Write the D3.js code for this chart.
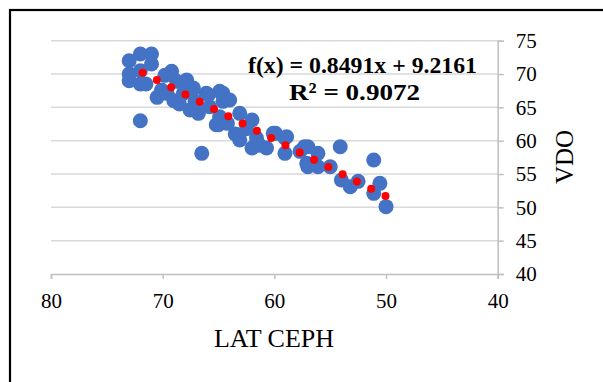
<!DOCTYPE html>
<html><head><meta charset="utf-8">
<script src="https://cdn.jsdelivr.net/npm/d3@7"></script>
<style>body{margin:0;background:#fff}svg{display:block}</style>
</head><body>
<svg id="c" width="603" height="382"></svg>
<script>
const latCeph = [73,72,71,73,73,72,71,71.5,72,72,
 69.8,69.2,70.1,69.6,68.75,67.85,68.15,67.4,67.1,67.55,66.8,66.1,65.8,64.9,64.6,65.2,70.5,69,68.5,
 67.25,66.8,65.9,64.6,64.0,64.9,65.0,63.1,62.0,63.1,62.0,61.6,60.7,59.9,58.9,59.05,66.5,57.3,57.1,63.5,61.3,
 60.1,59.05,57.7,57.0,56.1,57.0,56.1,55.0,54.1,54.0,53.2,52.5,51.1,50.55,51.1,50.0,62.5,64.2];
const vdo = [72,73,73,70,69,70.5,71.5,68.5,68.5,63,
 69.8,70.4,67.6,67.1,68.9,69.1,67.1,67.4,65.9,64.6,64.1,67.1,65.1,67.4,65.9,62.4,66.5,66,65.5,
 67.9,64.9,66.9,67.1,66.1,63.6,62.4,64.1,63.1,60.1,58.9,60.4,58.9,61.1,60.6,58.1,58.1,59.1,56.6,61,59.3,
 61.1,60.4,58.4,59.1,58.1,56.1,56.1,56.1,59.1,54.1,53.1,53.9,57.1,53.6,52.1,50.1,61.8,62.6];
const xTicks = [80,70,60,50,40];
const yTicks = [40,45,50,55,60,65,70,75];
const trendCoef = [0.8491, 9.2161];
const trendRange = [71.8, 50];
const eqLines = ["f(x) = 0.8491x + 9.2161", "R² = 0.9072"];

const svg = d3.select("#c");
const x = d3.scaleLinear().domain([80,40]).range([51,497.7]);
const y = d3.scaleLinear().domain([40,75]).range([274,40.7]);
const font = "'Liberation Serif','Times New Roman',serif";

// border
svg.append("rect").attr("x",10).attr("y",10).attr("width",700).attr("height",500)
  .attr("fill","none").attr("stroke","#000").attr("stroke-width",2.2);

// gridlines
svg.append("g").selectAll("line").data(yTicks.filter(d=>d>40)).join("line")
  .attr("x1",x(80)).attr("x2",x(40)).attr("y1",d=>y(d)).attr("y2",d=>y(d))
  .attr("stroke","#d9d9d9").attr("stroke-width",1.5);

// x axis
const gx = svg.append("g").attr("transform",`translate(0,${y(40)})`)
  .call(d3.axisBottom(x).tickValues(xTicks).tickSize(5).tickPadding(14));
gx.select(".domain").attr("stroke","#bfbfbf").attr("stroke-width",1.5);
gx.selectAll(".tick line").attr("stroke","#bfbfbf").attr("stroke-width",1.5);
gx.selectAll("text").attr("font-family",font).attr("font-size",21).attr("fill","#000");

// y axis
const gy = svg.append("g").attr("transform",`translate(${x(40)},0)`)
  .call(d3.axisRight(y).tickValues(yTicks).tickSize(6).tickPadding(12));
gy.select(".domain").attr("stroke","#bfbfbf").attr("stroke-width",1.5);
gy.selectAll(".tick line").attr("stroke","#bfbfbf").attr("stroke-width",1.5);
gy.selectAll("text").attr("font-family",font).attr("font-size",21).attr("fill","#000");

// points
const pts = latCeph.map((d,i)=>[d,vdo[i]]);
svg.append("g").selectAll("circle").data(pts).join("circle")
  .attr("cx",d=>x(d[0])).attr("cy",d=>y(d[1])).attr("r",7.5).attr("fill","#4472C4");

// trendline
const f = v => trendCoef[0]*v + trendCoef[1];
svg.append("line")
  .attr("x1",x(trendRange[0])).attr("y1",y(f(trendRange[0])))
  .attr("x2",x(trendRange[1])).attr("y2",y(f(trendRange[1])))
  .attr("stroke","#ff0000").attr("stroke-width",8).attr("stroke-linecap","round")
  .attr("stroke-dasharray","0,16.02");

// equation
svg.append("text").attr("x",248).attr("y",73)
  .attr("font-family",font).attr("font-weight","bold").attr("font-size",24)
  .attr("textLength",229).attr("lengthAdjust","spacingAndGlyphs").text(eqLines[0]);
svg.append("text").attr("x",289).attr("y",100)
  .attr("font-family",font).attr("font-weight","bold").attr("font-size",24)
  .attr("textLength",131).attr("lengthAdjust","spacingAndGlyphs").text(eqLines[1]);

// axis titles
svg.append("text").attr("x",274).attr("y",347).attr("text-anchor","middle")
  .attr("font-family",font).attr("font-size",26).text("LAT CEPH");
svg.append("text").attr("transform","translate(573,157) rotate(-90)").attr("text-anchor","middle")
  .attr("font-family",font).attr("font-size",25).text("VDO");
</script>
</body></html>
